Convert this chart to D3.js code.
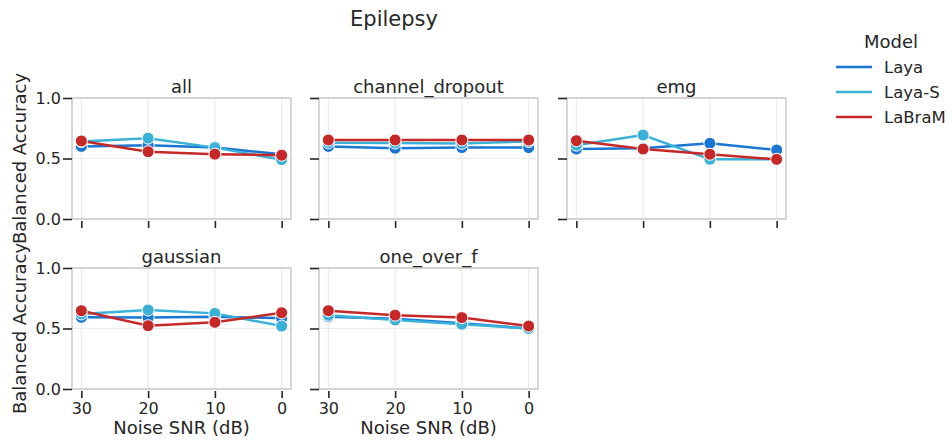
<!DOCTYPE html>
<html>
<head>
<meta charset="utf-8">
<script src="https://cdn.jsdelivr.net/npm/d3@7"></script>
<style>
  body { margin: 0; background: #fff; }
  text { font-family: "DejaVu Sans", sans-serif; fill: #262626; }
</style>
</head>
<body>
<div class="canvas"></div>
<script>
// data
const snrLevels = [30, 20, 10, 0]
const yTicks = [0, 0.5, 1]
const noiseTypes = ['all', 'channel_dropout', 'emg', 'gaussian', 'one_over_f']
const models = ['Laya', 'Laya-S', 'LaBraM']
const colors = ['#1976d2', '#3bb1d8', '#c62828']

const laya = {
  all: [0.60, 0.61, 0.59, 0.535],
  channel_dropout: [0.60, 0.585, 0.59, 0.59],
  emg: [0.578, 0.585, 0.625, 0.57],
  gaussian: [0.592, 0.59, 0.597, 0.585],
  one_over_f: [0.598, 0.58, 0.543, 0.50]
}
const layaS = {
  all: [0.64, 0.668, 0.59, 0.49],
  channel_dropout: [0.63, 0.628, 0.625, 0.64],
  emg: [0.61, 0.694, 0.493, 0.493],
  gaussian: [0.62, 0.653, 0.625, 0.52],
  one_over_f: [0.61, 0.57, 0.535, 0.50]
}
const labram = {
  all: [0.645, 0.556, 0.536, 0.527],
  channel_dropout: [0.653, 0.653, 0.653, 0.653],
  emg: [0.647, 0.578, 0.535, 0.493],
  gaussian: [0.647, 0.523, 0.551, 0.63],
  one_over_f: [0.647, 0.61, 0.59, 0.52]
}
const seriesByModel = [laya, layaS, labram]

const width = 952
const height = 442
const panelW = 219
const panelH = 121
const colX = [72, 319, 567]
const rowY = [98, 268]

const svg = d3.select('.canvas').append('svg')
  .attr('width', width)
  .attr('height', height)

svg.append('text')
  .attr('x', 394).attr('y', 26)
  .attr('text-anchor', 'middle')
  .style('font-size', '21px')
  .text('Epilepsy')

const x = d3.scaleLinear().domain([31.4, -1.4]).range([0, panelW])
const y = d3.scaleLinear().domain([0, 1]).range([panelH, 0])

noiseTypes.forEach((name, i) => {
  const row = Math.floor(i / 3)
  const col = i % 3
  const g = svg.append('g')
    .attr('transform', `translate(${colX[col]}, ${rowY[row]})`)

  // grid
  g.selectAll('.vgrid').data(snrLevels).enter().append('line')
    .attr('x1', d => x(d)).attr('x2', d => x(d))
    .attr('y1', 0).attr('y2', panelH)
    .attr('stroke', '#ebebeb').attr('stroke-width', 1.2)
  g.selectAll('.hgrid').data(yTicks).enter().append('line')
    .attr('x1', 0).attr('x2', panelW)
    .attr('y1', d => y(d)).attr('y2', d => y(d))
    .attr('stroke', '#ebebeb').attr('stroke-width', 1.2)

  // frame
  g.append('rect')
    .attr('width', panelW).attr('height', panelH)
    .attr('fill', 'none').attr('stroke', '#cccccc').attr('stroke-width', 1.6)

  // axes
  const showX = row === 1
  const showY = col === 0
  const xAxis = d3.axisBottom(x).tickValues(snrLevels).tickSize(7).tickPadding(5)
    .tickFormat(showX ? d3.format('d') : '')
  const yAxis = d3.axisLeft(y).tickValues(yTicks).tickSize(9).tickPadding(2)
    .tickFormat(showY ? d3.format('.1f') : '')

  const xg = g.append('g')
    .attr('transform', `translate(0, ${panelH + 2})`)
    .call(xAxis)
  const yg = g.append('g').call(yAxis)
  ;[xg, yg].forEach(a => {
    a.select('.domain').remove()
    a.selectAll('line').attr('stroke', '#262626').attr('stroke-width', 1.6)
    a.selectAll('text').style('font-size', '16px').style('font-family', '"DejaVu Sans", sans-serif').attr('fill', '#262626')
  })

  g.append('text')
    .attr('x', panelW / 2).attr('y', -5)
    .attr('text-anchor', 'middle')
    .style('font-size', '18px')
    .text(name)

  if (showX) {
    g.append('text')
      .attr('x', panelW / 2).attr('y', panelH + 45)
      .attr('text-anchor', 'middle')
      .style('font-size', '18px')
      .text('Noise SNR (dB)')
  }
  if (showY) {
    g.append('text')
      .attr('transform', `translate(-46, ${panelH / 2}) rotate(-90)`)
      .attr('text-anchor', 'middle')
      .style('font-size', '18px')
      .text('Balanced Accuracy')
  }

  // series
  const line = d3.line().x((d, j) => x(snrLevels[j])).y(d => y(d))
  seriesByModel.forEach((series, m) => {
    const vals = series[name]
    g.append('path')
      .datum(vals)
      .attr('d', line)
      .attr('fill', 'none')
      .attr('stroke', colors[m])
      .attr('stroke-width', 2.5)
    g.selectAll(null).data(vals).enter().append('circle')
      .attr('cx', (d, j) => x(snrLevels[j]))
      .attr('cy', d => y(d))
      .attr('r', 6)
      .attr('fill', colors[m])
      .attr('stroke', '#fff')
      .attr('stroke-width', 1)
  })
})

// legend
const legend = svg.append('g').attr('transform', 'translate(836, 0)')
legend.append('text')
  .attr('x', 55).attr('y', 48)
  .attr('text-anchor', 'middle')
  .style('font-size', '18px')
  .text('Model')
models.forEach((m, i) => {
  const ly = 67 + i * 25
  legend.append('line')
    .attr('x1', 0).attr('x2', 36)
    .attr('y1', ly).attr('y2', ly)
    .attr('stroke', colors[i]).attr('stroke-width', 2.5)
  legend.append('text')
    .attr('x', 48).attr('y', ly + 6)
    .style('font-size', '16.5px')
    .text(m)
})
</script>
</body>
</html>
